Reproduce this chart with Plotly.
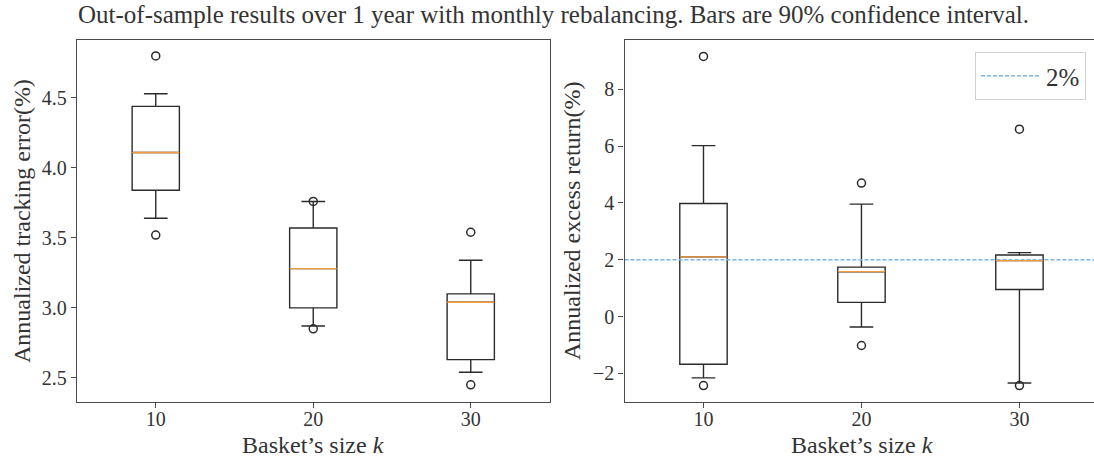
import plotly.graph_objects as go

# Basket sizes (x positions of the boxes)
sizes = [10, 20, 30]

# Annualized tracking error (%) box statistics per basket size
te_low = [3.64, 2.87, 2.54]
te_q1 = [3.84, 3.00, 2.63]
te_median = [4.11, 3.28, 3.04]
te_q3 = [4.44, 3.57, 3.10]
te_high = [4.53, 3.76, 3.34]
te_outliers = [[4.80, 3.52], [3.76, 2.85], [3.54, 2.45]]

# Annualized excess return (%) box statistics per basket size
er_low = [-2.16, -0.37, -2.34]
er_q1 = [-1.68, 0.50, 0.95]
er_median = [2.10, 1.58, 1.97]
er_q3 = [3.98, 1.74, 2.17]
er_high = [6.02, 3.96, 2.25]
er_outliers = [[9.16, -2.43], [4.70, -1.02], [6.60, -2.43]]

# Reference excess-return level
target_return = 2.0
target_label = "2%"

W, H = 1094, 457
FONT = "Liberation Serif"
BOX_WIDTH = 3.0
LINE = "#2b2b2b"
FRAME = "#4a4a4a"
MEDIAN = "#f39a3c"
TEXT = "#333333"

fig = go.Figure()


def add_boxes(low, q1, med, q3, high, outliers, xa, ya):
    fig.add_trace(go.Box(
        x=sizes, q1=q1, median=med, q3=q3, lowerfence=low, upperfence=high,
        width=BOX_WIDTH, whiskerwidth=0.5, boxpoints=False,
        line=dict(color=LINE, width=1.4), fillcolor="rgba(0,0,0,0)",
        xaxis=xa, yaxis=ya, showlegend=False, hoverinfo="skip",
    ))
    # orange median segments spanning each box
    mx, my = [], []
    for s, m in zip(sizes, med):
        mx += [s - BOX_WIDTH / 2, s + BOX_WIDTH / 2, None]
        my += [m, m, None]
    fig.add_trace(go.Scatter(
        x=mx, y=my, mode="lines", line=dict(color=MEDIAN, width=1.3),
        xaxis=xa, yaxis=ya, showlegend=False, hoverinfo="skip",
    ))
    # fliers
    ox, oy = [], []
    for s, pts in zip(sizes, outliers):
        for p in pts:
            ox.append(s)
            oy.append(p)
    fig.add_trace(go.Scatter(
        x=ox, y=oy, mode="markers",
        marker=dict(symbol="circle-open", size=8, color=LINE, line=dict(width=1.5, color=LINE)),
        xaxis=xa, yaxis=ya, showlegend=False, hoverinfo="skip",
    ))


add_boxes(te_low, te_q1, te_median, te_q3, te_high, te_outliers, "x", "y")

x2_range = [5, 34.72]
fig.add_trace(go.Scatter(
    x=x2_range, y=[target_return, target_return], mode="lines",
    line=dict(color="#7db4e0", width=1.3, dash="4px,2px"),
    name=target_label, xaxis="x2", yaxis="y2", hoverinfo="skip",
))
add_boxes(er_low, er_q1, er_median, er_q3, er_high, er_outliers, "x2", "y2")

ydom = [1 - 402 / H, 1 - 40 / H]
axis_common = dict(
    showgrid=False, zeroline=False, showline=True, linecolor=FRAME, linewidth=1.3,
    ticks="outside", ticklen=5, tickwidth=1, tickcolor=FRAME,
    tickfont=dict(family=FONT, size=20, color=TEXT),
)
xaxis_extra = dict(ticklabelstandoff=-6)
yaxis_extra = dict(ticklabelstandoff=0)

fig.update_layout(
    width=W, height=H,
    margin=dict(l=0, r=0, t=0, b=0),
    paper_bgcolor="white", plot_bgcolor="white",
    font=dict(family=FONT, color=TEXT),
    xaxis=dict(domain=[77 / W, 549.5 / W], range=[5, 35], tickvals=sizes,
               mirror=True, anchor="y", **axis_common, **xaxis_extra),
    yaxis=dict(domain=ydom, range=[2.327, 4.914], tickvals=[2.5, 3.0, 3.5, 4.0, 4.5],
               ticktext=["2.5", "3.0", "3.5", "4.0", "4.5"],
               mirror=True, anchor="x", **axis_common, **yaxis_extra),
    xaxis2=dict(domain=[624.5 / W, 1.0], range=x2_range, tickvals=sizes,
                mirror=True, anchor="y2", **axis_common, **xaxis_extra),
    yaxis2=dict(domain=ydom, range=[-3.01, 9.74], tickvals=[-2, 0, 2, 4, 6, 8],
                ticktext=["\u22122", "0", "2", "4", "6", "8"],
                anchor="x2", **axis_common, **yaxis_extra),
    showlegend=True,
    legend=dict(
        x=1086 / W, xanchor="right", y=1 - 52 / H, yanchor="top",
        bgcolor="white", bordercolor="#d0d0d0", borderwidth=1,
        font=dict(family=FONT, size=25, color=TEXT),
        itemwidth=60,
    ),
)

label_font = dict(family=FONT, size=24, color=TEXT)
annotations = [
    dict(text="Out-of-sample results over 1 year with monthly rebalancing. Bars are 90% confidence interval.",
         x=553 / W, y=1 - 15 / H, font=dict(family=FONT, size=25, color=TEXT)),
    dict(text="Annualized tracking error(%)", x=22 / W, y=1 - 221 / H, textangle=-90, font=label_font),
    dict(text="Annualized excess return(%)", x=572 / W, y=1 - 221 / H, textangle=-90, font=label_font),
    dict(text="Basket\u2019s size <i>k</i>", x=313 / W, y=1 - 445 / H, font=label_font),
    dict(text="Basket\u2019s size <i>k</i>", x=861.5 / W, y=1 - 445 / H, font=label_font),
]
for a in annotations:
    fig.add_annotation(xref="paper", yref="paper", xanchor="center", yanchor="middle",
                       showarrow=False, **a)

fig.write_html("out.html")
